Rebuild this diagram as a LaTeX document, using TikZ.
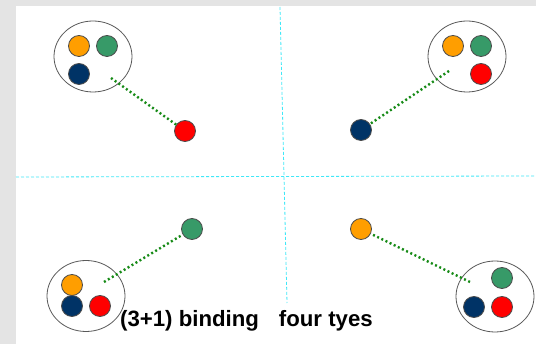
\documentclass[tikz,border=0pt]{standalone}
\usepackage{fontspec}
\setmainfont{Liberation Sans}
\usetikzlibrary{shapes.geometric}
\definecolor{ballorange}{HTML}{FF9E00}
\definecolor{ballgreen}{HTML}{379A68}
\definecolor{ballnavy}{HTML}{003366}
\definecolor{ballred}{HTML}{FF0000}
\definecolor{linkgreen}{HTML}{168A16}
\definecolor{frame}{HTML}{E4E4E4}
\definecolor{guidecyan}{HTML}{3FE8F8}
\tikzset{
  ball/.style={circle, draw=black!70, line width=0.8pt, minimum size=21pt, inner sep=0pt},
  cluster/.style={ellipse, draw=black!65, line width=0.8pt, minimum width=78pt, minimum height=71pt, inner sep=0pt},
  link/.style={linkgreen, line width=2.4pt, dash pattern=on 2pt off 2.6pt},
  guide/.style={guidecyan, line width=0.8pt, dash pattern=on 3pt off 2pt}
}
\begin{document}
\begin{tikzpicture}[x=1pt, y=-1pt]

    % Frame
    \fill[frame] (0,0) rectangle (536,344);
    \fill[white] (16,6) rectangle (536,344);
    \useasboundingbox (0,0) rectangle (536,344);

    % Guides
    \coordinate (gt) at (280,7);
    \coordinate (gb) at (287,303);
    \coordinate (gl) at (16,177);
    \coordinate (gr) at (536,176);
    \draw[guide] (gt) -- (gb);
    \draw[guide] (gl) -- (gr);

    % Top left
    \node[cluster] (c1) at (93,56.5) {};
    \node[ball, fill=ballorange] (o1) at (79,46) {};
    \node[ball, fill=ballgreen] (g1) at (107,46) {};
    \node[ball, fill=ballnavy] (n1) at (79,74) {};
    \coordinate (e1) at (111,78);
    \node[ball, fill=ballred] (r1) at (185,131) {};

    % Top right
    \node[cluster] (c2) at (467,56.5) {};
    \node[ball, fill=ballorange] (o2) at (453,46) {};
    \node[ball, fill=ballgreen] (g2) at (481,46) {};
    \node[ball, fill=ballred] (r2) at (481,74) {};
    \coordinate (e2) at (449,71);
    \node[ball, fill=ballnavy] (n2) at (361,130) {};

    % Bottom left
    \node[cluster] (c3) at (86,296) {};
    \node[ball, fill=ballorange] (o3) at (72,285) {};
    \node[ball, fill=ballnavy] (n3) at (72,306) {};
    \node[ball, fill=ballred] (r3) at (100,306) {};
    \coordinate (e3) at (104,282);
    \node[ball, fill=ballgreen] (g3) at (192,229) {};

    % Bottom right
    \node[cluster] (c4) at (495,296.5) {};
    \node[ball, fill=ballgreen] (g4) at (502,278) {};
    \node[ball, fill=ballnavy] (n4) at (474,307) {};
    \node[ball, fill=ballred] (r4) at (502,307) {};
    \coordinate (e4) at (470,282);
    \node[ball, fill=ballorange] (o4) at (361,229) {};

    % Links
    \draw[link] (e1) -- (r1);
    \draw[link] (e2) -- (n2);
    \draw[link] (e3) -- (g3);
    \draw[link] (e4) -- (o4);

    % Caption
    \node[anchor=base west, inner sep=0pt, font=\fontsize{22.2}{24}\selectfont\bfseries] (cap) at (120,327) {(3+1) binding\hspace{20pt}four tyes};

\end{tikzpicture}
\end{document}
